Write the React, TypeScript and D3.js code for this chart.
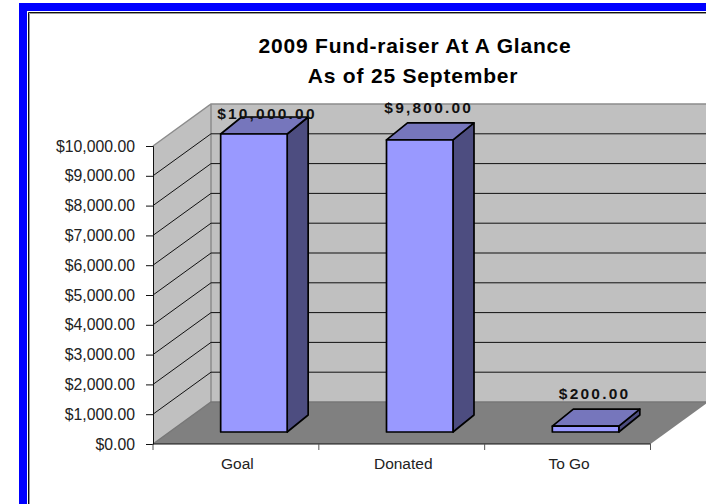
// App.tsx - 3D column chart of the 2009 fund-raiser
import { useRef, useEffect } from 'react';
import * as d3 from 'd3';

const categories = ['Goal', 'Donated', 'To Go'];
const amounts = [10000, 9800, 200];
const valueTicks = [0, 1000, 2000, 3000, 4000, 5000, 6000, 7000, 8000, 9000, 10000];
const titleLines = ['2009 Fund-raiser At A Glance', 'As of 25 September'];

const FONT = '"Liberation Sans", Arial, sans-serif';
const money = (v: number) => '$' + d3.format(',.2f')(v);

export default function App() {
    const chartRef = useRef<SVGSVGElement>(null);

    useEffect(() => {
        if (!chartRef.current) return;
        const svg = d3.select(chartRef.current);
        svg.selectAll('*').remove();

        // page frame: blue band, then a thin dark line, open to the right and bottom
        svg.append('path').attr('fill', '#0000ff').attr('d', 'M19,504V3H706V11H27V504Z');
        svg.append('path').attr('fill', 'none').attr('stroke', '#9a9a9a').attr('d', 'M29.5,504V13.5H706');
        svg.append('path').attr('fill', 'none').attr('stroke', '#111').attr('d', 'M28.5,504V12.5H706');

        // plot geometry
        const x = d3.scaleBand<string>().domain(categories).range([153, 650.5]);
        const y = d3.scaleLinear().domain([0, 10000]).range([444, 146]);
        const wallDx = 58, wallDy = -42; // floor depth
        const gapDx = 18, gapDy = -12; // bar offset from the front edge of the floor
        const barDx = 21, barDy = -17; // bar depth
        const barW = 66.5;
        const [left, right] = x.range();
        const base = y(0), top = y(10000);

        // walls and floor
        svg.append('path').attr('fill', '#c0c0c0')
            .attr('d', `M${left},${base}V${top}L${left + wallDx},${top + wallDy}H706V${base + wallDy}H${left + wallDx}Z`);
        svg.append('path').attr('fill', '#808080')
            .attr('d', `M${left},${base}H${right}L${right + wallDx},${base + wallDy}H${left + wallDx}Z`);
        svg.append('path').attr('fill', 'none').attr('stroke', '#8c8c8c').attr('stroke-width', 1.5)
            .attr('d', `M${left},${top}L${left + wallDx},${top + wallDy}H706M${left + wallDx},${top + wallDy}V${base + wallDy}`);
        svg.append('path').attr('fill', 'none').attr('stroke', '#777').attr('stroke-width', 1.5)
            .attr('d', `M${left},${base}L${left + wallDx},${base + wallDy}H706`);

        // gridlines run along the side wall and back wall
        svg.append('g').selectAll('path')
            .data(valueTicks.filter(d => d > 0 && d < 10000))
            .enter().append('path')
            .attr('fill', 'none').attr('stroke', '#111')
            .attr('d', d => `M${left},${y(d)}L${left + wallDx},${y(d) + wallDy}H706`);

        // axes
        const yAxis = svg.append('g').attr('transform', `translate(${left},0)`)
            .call(d3.axisLeft(y).tickValues(valueTicks).tickFormat(d => money(d as number)).tickSize(7).tickPadding(11));
        yAxis.selectAll('text').attr('font-family', FONT).attr('font-size', 15.8).attr('fill', '#222');
        yAxis.selectAll('line,path').attr('stroke', '#111');

        const xEdges = [left, ...categories.map(c => (x(c) as number) + x.bandwidth())];
        svg.append('path').attr('stroke', '#111').attr('fill', 'none').attr('d', `M${left},${base}H${right}`);
        svg.append('g').selectAll('line').data(xEdges).enter().append('line')
            .attr('x1', d => d).attr('x2', d => d).attr('y1', base).attr('y2', base + 6)
            .attr('stroke', '#555');
        svg.append('g').selectAll('text').data(categories).enter().append('text')
            .attr('x', d => (x(d) as number) + x.bandwidth() / 2 + 1.5)
            .attr('y', 469)
            .attr('text-anchor', 'middle')
            .attr('font-family', FONT).attr('font-size', 15.5).attr('fill', '#222')
            .text(d => d);

        // bars
        const bars = svg.append('g').selectAll('g').data(categories).enter().append('g')
            .attr('stroke', '#000').attr('stroke-width', 1.7).attr('stroke-linejoin', 'round');
        const barX = (c: string) => (x(c) as number) + (x.bandwidth() - barW) / 2 + gapDx;
        const barTop = (i: number) => y(amounts[i]) + gapDy;
        const barBase = base + gapDy;

        bars.append('path').attr('fill', '#4d4d80')
            .attr('d', (c, i) => `M${barX(c) + barW},${barBase}V${barTop(i)}l${barDx},${barDy}V${barBase + barDy}Z`);
        bars.append('path').attr('fill', '#7676bc')
            .attr('d', (c, i) => `M${barX(c)},${barTop(i)}l${barDx},${barDy}h${barW}l${-barDx},${-barDy}Z`);
        bars.append('rect').attr('fill', '#9999ff')
            .attr('x', c => barX(c))
            .attr('y', (c, i) => barTop(i))
            .attr('width', barW)
            .attr('height', (c, i) => barBase - barTop(i));

        // value labels, the first one is pushed down onto its bar as it would hit the top
        svg.append('g').selectAll('text').data(categories).enter().append('text')
            .attr('x', (c, i) => barX(c) + barW / 2 + (i === 0 ? 13 : 9))
            .attr('y', (c, i) => barTop(i) + (i === 0 ? -15 : -27))
            .attr('text-anchor', 'middle')
            .attr('font-family', FONT).attr('font-size', 15.5).attr('font-weight', 'bold')
            .attr('letter-spacing', 2.2).attr('fill', '#111')
            .text((c, i) => money(amounts[i]));

        // title
        svg.append('g').selectAll('text').data(titleLines).enter().append('text')
            .attr('x', (d, i) => 415 - i * 2)
            .attr('y', (d, i) => 53 + i * 30)
            .attr('text-anchor', 'middle')
            .attr('font-family', FONT).attr('font-size', 21).attr('font-weight', 'bold')
            .attr('letter-spacing', 0.8).attr('fill', '#000')
            .text(d => d);
    }, []);

    return <svg ref={chartRef} width={706} height={504} style={{ position: 'absolute', left: 0, top: 0, background: '#fff' }} />;
}
